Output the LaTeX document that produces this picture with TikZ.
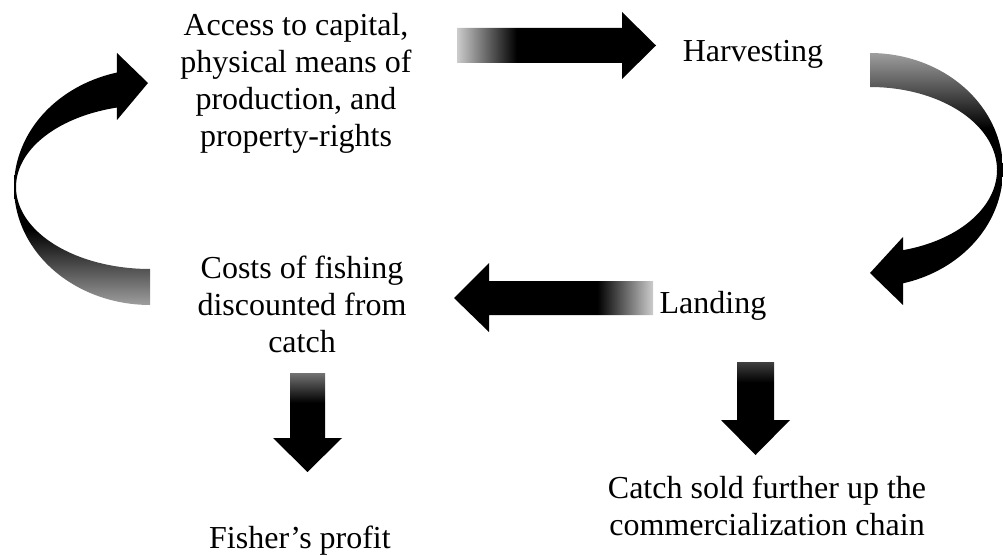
\documentclass[tikz,border=0pt]{standalone}
\usepackage{fontspec}
\setmainfont{Liberation Serif}
\definecolor{lightend}{gray}{0.80}
\definecolor{tailgray}{gray}{0.62}
\definecolor{glossgray}{gray}{0.45}
\definecolor{glossdark}{gray}{0.25}
\pgfdeclarehorizontalshading{hrightarrow}{100bp}{color(0bp)=(lightend); color(25bp)=(lightend); color(40bp)=(black); color(100bp)=(black)}
\pgfdeclarehorizontalshading{hleftarrow}{100bp}{color(0bp)=(black); color(61bp)=(black); color(75bp)=(lightend); color(100bp)=(lightend)}
\pgfdeclareverticalshading{vleftcurve}{100bp}{color(0bp)=(tailgray); color(25bp)=(tailgray); color(40bp)=(black); color(100bp)=(black)}
\pgfdeclareverticalshading{vrightcurve}{100bp}{color(0bp)=(black); color(60bp)=(black); color(75bp)=(tailgray); color(100bp)=(tailgray)}
\pgfdeclareverticalshading{vdownA}{100bp}{color(0bp)=(black); color(60bp)=(black); color(75bp)=(glossgray); color(100bp)=(glossgray)}
\pgfdeclareverticalshading{vdownB}{100bp}{color(0bp)=(black); color(64bp)=(black); color(75bp)=(glossdark); color(100bp)=(glossdark)}
\tikzset{
  lbl/.style={align=center, font=\fontsize{32}{37}\selectfont, inner sep=0pt, anchor=base},
}
\begin{document}
\begin{tikzpicture}[x=1pt,y=-1pt]
\useasboundingbox (0,0) rectangle (1003,556);

% text blocks (base anchor = baseline of last line)
\node[lbl] (access) at (296,147) {Access to capital,\\physical means of\\production, and\\property-rights};
\node[lbl] (harv) at (753,62) {Harvesting};
\node[lbl] (costs) at (302,352) {Costs of fishing\\discounted from\\catch};
\node[lbl] (land) at (713,313) {Landing};
\node[lbl] (profit) at (300,548) {Fisher’s profit};
\node[lbl] (sold) at (767,535) {Catch sold further up the\\commercialization chain};

% straight arrow: access -> harvesting
\shade[shading=hrightarrow] (457,28) -- (622,28) -- (622,12) -- (656,45.5) -- (622,79) -- (622,63) -- (457,63) -- cycle;

% curved arrow: harvesting -> landing
\shade[shading=vrightcurve] (870,53)
  -- plot[domain=-90:75.6,samples=80] ({870+133*cos(\x)},{170+117*sin(\x)})
  -- (903,305) -- (870,273) -- (903,237)
  -- plot[domain=74.9:-90,samples=80] ({870+127*cos(\x)},{170+83*sin(\x)})
  -- cycle;

% straight arrow: landing -> costs
\shade[shading=hleftarrow] (653,281) -- (489,281) -- (489,263) -- (454,298) -- (489,332) -- (489,315) -- (653,315) -- cycle;

% curved arrow: costs -> access
\shade[shading=vleftcurve] (150,305)
  -- plot[domain=90:255.9,samples=80] ({150+136*cos(\x)},{187+118*sin(\x)})
  -- (117,53) -- (148,83) -- (117,120)
  -- plot[domain=255.7:90,samples=80] ({150+134*cos(\x)},{187+82*sin(\x)})
  -- cycle;

% down arrow: costs -> profit
\shade[shading=vdownA] (290,373) -- (325,373) -- (325,438) -- (342,438) -- (307.5,472) -- (273,438) -- (290,438) -- cycle;

% down arrow: landing -> sold
\shade[shading=vdownB] (737,362) -- (774,362) -- (774,420) -- (790,420) -- (755.5,455) -- (721,420) -- (737,420) -- cycle;
\end{tikzpicture}
\end{document}
